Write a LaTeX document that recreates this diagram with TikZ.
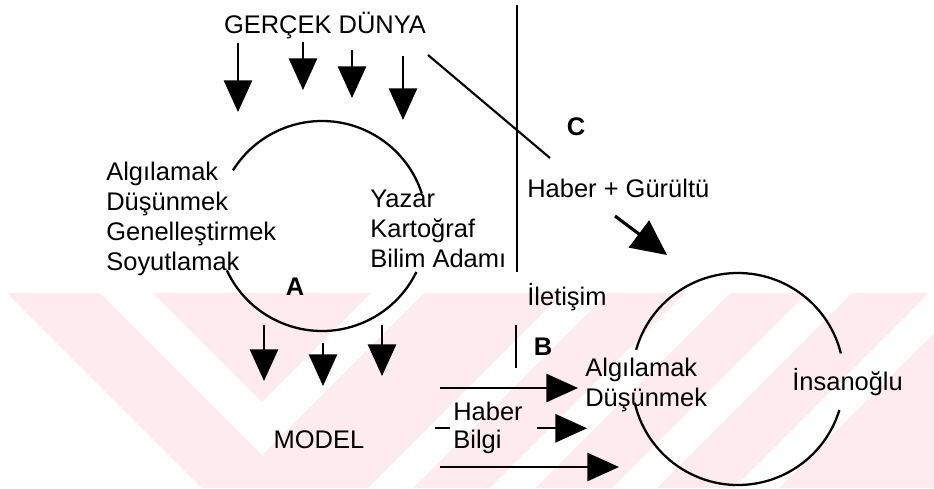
\documentclass[tikz,border=0pt]{standalone}
\usepackage{fontspec}
\setmainfont{Liberation Sans}
\usetikzlibrary{arrows.meta}

\definecolor{wmpink}{RGB}{253,235,239}

\begin{document}
\begin{tikzpicture}[
  x=0.02cm, y=0.02cm,
  >={Triangle[length=18pt, width=16pt]},
  txt/.style={font=\fontsize{14.5}{17}\selectfont, inner sep=0pt, align=left},
  lbl/.style={font=\fontsize{14.5}{17}\selectfont\bfseries, inner sep=0pt},
  arr/.style={->, line width=1.3pt},
  bigarr/.style={-{Triangle[length=20pt, width=19pt]}, line width=1.8pt},
  ring/.style={line width=1.3pt},
  rule/.style={line width=1.2pt},
]
\useasboundingbox (0,0) rectangle (934,-488);

% watermark band
\begin{scope}
  \clip (0,0) rectangle (934,-488);
  \fill[wmpink] (7,-293) -- (934,-293) -- (934,-488) -- (202,-488) -- cycle;
  \fill[white] (100,-293) -- (153,-293) -- (262,-402) -- (371,-293)
    -- (424,-293) -- (262,-455) -- cycle;
  \foreach \t in {563,685,807,929}
    \fill[white] (\t,-293) -- (\t+45,-293) -- (\t-150,-488) -- (\t-195,-488) -- cycle;
\end{scope}

% circle A (model making)
\coordinate (cA) at (322,-226);
\draw[ring] ([shift={(148:105)}]cA) arc[start angle=148, end angle=18, radius=105];
\draw[ring] ([shift={(205:105)}]cA) arc[start angle=205, end angle=334, radius=105];

% circle of the receiver
\coordinate (cB) at (738,-379);
\draw[ring] ([shift={(164:106)}]cB) arc[start angle=164, end angle=14, radius=106];
\draw[ring] ([shift={(193:106)}]cB) arc[start angle=193, end angle=343, radius=106];

% texts
\node[txt, anchor=base] (world) at (325,-33) {GERÇEK DÜNYA};
\node[txt, anchor=north west] (think) at (106,-162) {Algılamak\\Düşünmek\\Genelleştirmek\\Soyutlamak};
\node[txt, anchor=north west] (author) at (370,-190) {Yazar\\Kartoğraf\\Bilim Adamı};
\node[lbl, anchor=base] (labA) at (295,-295) {A};
\node[txt, anchor=base] (model) at (319,-448) {MODEL};
\node[lbl, anchor=base] (labC) at (576,-135) {C};
\node[txt, anchor=base west] (noise) at (527,-197) {Haber + Gürültü};
\node[txt, anchor=base west] (comm) at (527,-305) {İletişim};
\node[lbl, anchor=base] (labB) at (543,-355) {B};
\node[txt, anchor=north west, font=\fontsize{14.5}{16}\selectfont] (info) at (453,-402) {Haber\\Bilgi};
\node[txt, anchor=north west] (percv) at (585,-358) {Algılamak\\Düşünmek};
\node[txt, anchor=base west] (human) at (792,-390) {İnsanoğlu};

% real world -> A
\foreach \i/\x/\ys/\ye in {1/238/43/112, 2/303/42/90, 3/352/50/98, 4/403/56/120} {
  \coordinate (in\i) at (\x,-\ys);
  \coordinate (inend\i) at (\x,-\ye);
  \draw[arr] (in\i) -- (inend\i);
}

% A -> model
\foreach \i/\x/\ys/\ye in {1/264/325/381, 2/323/343/386, 3/382/325/376} {
  \coordinate (out\i) at (\x,-\ys);
  \coordinate (outend\i) at (\x,-\ye);
  \draw[arr] (out\i) -- (outend\i);
}

% separators
\coordinate (vtop) at (517,-5);
\coordinate (vbot) at (517,-272);
\draw[rule] (vtop) -- (vbot);
\coordinate (btop) at (516,-325);
\coordinate (bbot) at (516,-368);
\draw[rule] (btop) -- (bbot);

% path C
\coordinate (cstart) at (428,-55);
\coordinate (cend) at (550,-158);
\draw[rule] (cstart) -- (cend);
\coordinate (nstart) at (615,-216);
\coordinate (nend) at (667,-255);
\draw[bigarr] (nstart) -- (nend);

% path B
\coordinate (h1) at (440,-388);
\coordinate (h1end) at (578,-388);
\draw[arr] (h1) -- (h1end);
\draw[rule] (info.west) ++(-18,0) -- ++(15,0);
\draw[arr] (info.east) ++(14,0) -- ++(50,0);
\coordinate (h3) at (440,-467);
\coordinate (h3end) at (619,-467);
\draw[arr] (h3) -- (h3end);
\end{tikzpicture}
\end{document}
